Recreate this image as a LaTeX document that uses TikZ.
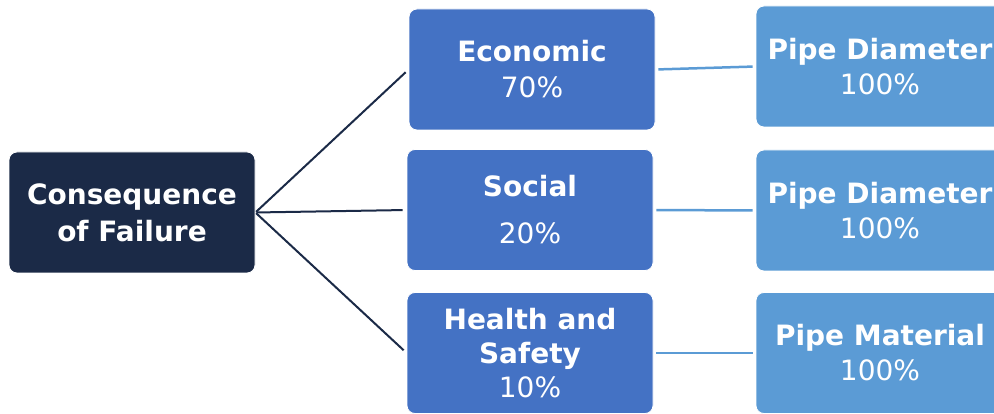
\documentclass[tikz,border=0pt]{standalone}
\usepackage{fontspec}
\setmainfont{DejaVu Sans}
\usepackage{tikz}
\definecolor{navy}{HTML}{1B2A47}
\definecolor{midblue}{HTML}{4472C4}
\definecolor{lightblue}{HTML}{5B9BD5}
\tikzset{
  box/.style={draw=white, line width=0.8pt, rounded corners=8pt, text=white, align=center,
    inner sep=0pt, minimum width=246pt, minimum height=121pt,
    font=\fontsize{28}{36}\selectfont},
}

\begin{document}
\begin{tikzpicture}[x=1pt,y=-1pt]
\useasboundingbox (0,0) rectangle (994,414);
\clip (0,0) rectangle (994,414);

\node[box, fill=navy] (cof) at (132,212.5) {\textbf{Consequence}\\[1pt]\textbf{of Failure}};

\node[box, fill=midblue] (econ) at (532,69.5) {\textbf{Economic}\\70\%};
\node[box, fill=midblue] (soc) at (530,210) {\textbf{Social}\\[11pt]20\%};
\node[box, fill=midblue] (hs) at (530,353) {\textbf{Health and}\\[-2pt]\textbf{Safety}\\[-2pt]10\%};

\node[box, fill=lightblue, minimum width=248pt] (pd1) at (880,66.5) {\textbf{Pipe Diameter}\\[-1pt]100\%};
\node[box, fill=lightblue, minimum width=248pt] (pd2) at (880,210.5) {\textbf{Pipe Diameter}\\[-1pt]100\%};
\node[box, fill=lightblue, minimum width=248pt] (pm) at (880,353) {\textbf{Pipe Material}\\[-1pt]100\%};

\path[draw,navy,line width=2pt,shorten <=1pt,shorten >=4pt] (cof.east) -- (econ.west);
\path[draw,navy,line width=2pt,shorten <=1pt,shorten >=4pt] (cof.east) -- (soc.west);
\path[draw,navy,line width=2pt,shorten <=1pt,shorten >=4pt] (cof.east) -- (hs.west);

\path[draw,lightblue,line width=2.5pt,shorten <=3pt,shorten >=3pt] (econ.east) -- (pd1.west);
\path[draw,lightblue,line width=2.5pt,shorten <=3pt,shorten >=3pt] (soc.east) -- (pd2.west);
\path[draw,lightblue,line width=2.5pt,shorten <=3pt,shorten >=3pt] (hs.east) -- (pm.west);
\end{tikzpicture}
\end{document}
